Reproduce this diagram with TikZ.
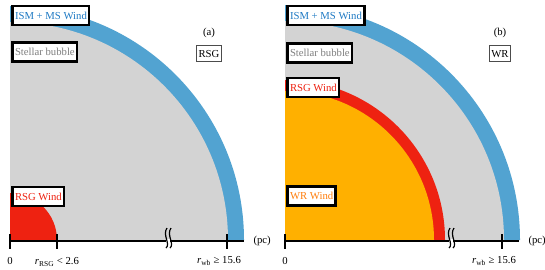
\documentclass[tikz,border=0pt]{standalone}
\usepackage{fontspec}
\setmainfont{Liberation Serif}
\usepackage{xcolor}
\usepackage{tikz}
\usetikzlibrary{positioning, calc}

\definecolor{windblue}{HTML}{52A3D1}
\definecolor{bubblegrey}{HTML}{D3D3D3}
\definecolor{rsgred}{HTML}{EE2211}
\definecolor{wrorange}{HTML}{FFB000}
\definecolor{txtblue}{HTML}{1F7AC4}
\definecolor{txtgrey}{HTML}{7F7F7F}
\definecolor{txtorange}{HTML}{FF7F0E}

\begin{document}
\begin{tikzpicture}[
  x=1pt, y=1pt,
  font=\fontsize{10.7}{12}\selectfont,
  tag/.style={rectangle, draw=black, line width=2.8pt, fill=white, inner sep=2.2pt, minimum height=19pt, anchor=west},
  phase/.style={rectangle, draw=black!70, line width=0.6pt, fill=white, inner sep=2pt, minimum height=16pt},
  axisline/.style={line width=2.2pt},
  tick/.style={line width=2.2pt},
  brk/.style={line width=1.2pt},
]
  \useasboundingbox (0,0) rectangle (545,269);

  % (a) red supergiant phase
  \coordinate (oa) at (10,29);
  \fill[windblue] (oa) -- ++(234,0) arc[start angle=0, end angle=90, radius=234] -- cycle;
  \fill[bubblegrey] (oa) -- ++(218,0) arc[start angle=0, end angle=90, radius=218] -- cycle;
  \fill[rsgred] (oa) -- ++(47,0) arc[start angle=0, end angle=90, radius=47] -- cycle;

  \coordinate (a0) at (10,28);
  \coordinate (a1) at (57,28);
  \coordinate (a2) at (227,28);
  \coordinate (aend) at (244,28);
  \coordinate (abrk) at (167,28);
  \draw[axisline] (a0) -- (aend);
  \foreach \p in {a0,a1,a2} \draw[tick] ($(\p)+(0,-7.5)$) -- ($(\p)+(0,7.5)$);
  \fill[white] ($(abrk)+(-1.5,-1.6)$) rectangle ($(abrk)+(2.5,1.6)$);
  \draw[brk] ($(abrk)+(0,13)$) .. controls ($(abrk)+(-5,6)$) and ($(abrk)+(4,-3)$) .. ($(abrk)+(-1,-7)$);
  \draw[brk] ($(abrk)+(4,13)$) .. controls ($(abrk)+(-1,6)$) and ($(abrk)+(8,-3)$) .. ($(abrk)+(3,-7)$);

  \node[anchor=west] (pca) at (250,28) {(pc)};
  \node (zeroa) at (10,8) {0};
  \node (rrsg) at (57,7) {\textit{r}\textsubscript{RSG} < 2.6};
  \node (rwba) at (219,8) {\textit{r}\textsubscript{wb} ≥ 15.6};

  \node[tag, text=txtblue] (isma) at (11.4,253.5) {ISM + MS Wind};
  \node[tag, text=txtgrey] (bubblea) at (11.4,217) {Stellar bubble};
  \node[tag, text=rsgred] (rsgwinda) at (11.4,72.5) {RSG Wind};
  \node (laba) at (209,236) {(a)};
  \node[phase, below=4pt of laba] (phasea) {RSG};

  % (b) Wolf-Rayet phase
  \coordinate (ob) at (285,29);
  \fill[windblue] (ob) -- ++(235,0) arc[start angle=0, end angle=90, radius=235] -- cycle;
  \fill[bubblegrey] (ob) -- ++(219,0) arc[start angle=0, end angle=90, radius=219] -- cycle;
  \fill[rsgred] (ob) -- ++(160,0) arc[start angle=0, end angle=90, radius=160] -- cycle;
  \fill[wrorange] (ob) -- ++(149,0) arc[start angle=0, end angle=90, radius=149] -- cycle;

  \coordinate (b0) at (285,28);
  \coordinate (b2) at (502,28);
  \coordinate (bend) at (519,28);
  \coordinate (bbrk) at (450,28);
  \draw[axisline] (b0) -- (bend);
  \foreach \p in {b0,b2} \draw[tick] ($(\p)+(0,-7.5)$) -- ($(\p)+(0,7.5)$);
  \fill[white] ($(bbrk)+(-1.5,-1.6)$) rectangle ($(bbrk)+(2.5,1.6)$);
  \draw[brk] ($(bbrk)+(0,13)$) .. controls ($(bbrk)+(-5,6)$) and ($(bbrk)+(4,-3)$) .. ($(bbrk)+(-1,-7)$);
  \draw[brk] ($(bbrk)+(4,13)$) .. controls ($(bbrk)+(-1,6)$) and ($(bbrk)+(8,-3)$) .. ($(bbrk)+(3,-7)$);

  \node[anchor=west] (pcb) at (525,28) {(pc)};
  \node (zerob) at (285,8) {0};
  \node (rwbb) at (494,8) {\textit{r}\textsubscript{wb} ≥ 15.6};

  \node[tag, text=txtblue] (ismb) at (286.4,253.5) {ISM + MS Wind};
  \node[tag, text=txtgrey] (bubbleb) at (286.4,216) {Stellar bubble};
  \node[tag, text=rsgred] (rsgwindb) at (286.4,181.5) {RSG Wind};
  \node[tag, text=txtorange] (wrwindb) at (286.4,73) {WR Wind};
  \node (labb) at (500,236) {(b)};
  \node[phase, below=4pt of labb] (phaseb) {WR};
\end{tikzpicture}
\end{document}
